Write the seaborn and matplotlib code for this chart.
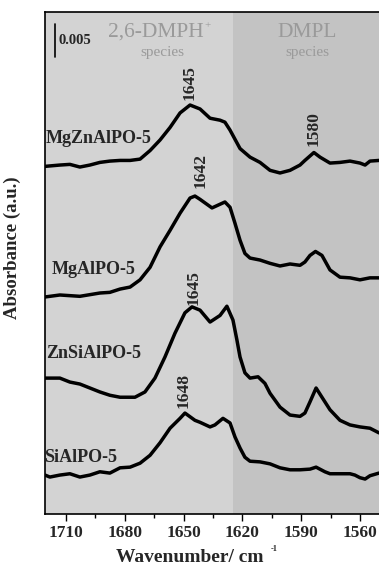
import matplotlib
matplotlib.use("Agg")
import matplotlib.pyplot as plt
from matplotlib.ticker import MultipleLocator
import numpy as np
import seaborn as sns

# spectra (wavenumber in cm-1, absorbance in 10^-3 a.u., already stacked)
wn_mgzn = [1720.7, 1713.1, 1708.0, 1702.9, 1697.8, 1692.7, 1687.6, 1682.4, 1677.3, 1672.2,
           1667.1, 1662.0, 1656.9, 1651.8, 1646.7, 1641.6, 1636.5, 1631.4, 1628.9, 1626.3,
           1621.2, 1616.1, 1611.0, 1605.9, 1600.8, 1595.7, 1590.6, 1588.1, 1583.5, 1580.4,
           1575.3, 1570.2, 1565.1, 1560.0, 1557.4, 1554.9, 1550.3]
abs_mgzn = [52.7, 52.9, 53.0, 52.6, 52.9, 53.3, 53.5, 53.6, 53.6, 53.8,
            55.1, 56.7, 58.6, 60.8, 62.0, 61.4, 60.0, 59.7, 59.4, 58.2,
            55.4, 54.1, 53.3, 52.1, 51.7, 52.1, 52.9, 53.6, 54.8, 54.1,
            53.2, 53.3, 53.5, 53.2, 52.9, 53.5, 53.6]

wn_mg = [1720.7, 1713.1, 1702.9, 1692.7, 1687.6, 1682.4, 1677.3, 1672.2, 1667.1, 1662.0,
         1656.9, 1651.8, 1646.7, 1644.2, 1641.6, 1635.5, 1628.9, 1626.3, 1623.8, 1621.2,
         1618.7, 1616.1, 1611.0, 1605.9, 1600.8, 1595.7, 1590.6, 1588.1, 1585.5, 1582.7,
         1579.4, 1575.3, 1570.2, 1565.1, 1560.0, 1554.9, 1550.3]
abs_mg = [32.9, 33.2, 33.0, 33.5, 33.6, 34.1, 34.4, 35.5, 37.4, 40.5,
          43.0, 45.6, 47.9, 48.2, 47.7, 46.4, 47.3, 46.5, 44.1, 41.5,
          39.5, 38.8, 38.5, 38.0, 37.6, 37.9, 37.7, 38.2, 39.2, 39.8,
          39.2, 37.0, 35.9, 35.8, 35.5, 35.8, 35.8]

wn_znsi = [1720.7, 1713.1, 1708.0, 1702.9, 1697.8, 1692.7, 1687.6, 1682.4, 1674.8, 1669.7,
           1664.6, 1659.5, 1654.4, 1649.3, 1645.7, 1641.6, 1636.5, 1631.4, 1627.9, 1624.8,
           1622.8, 1621.2, 1618.7, 1616.1, 1612.0, 1608.5, 1605.9, 1600.8, 1595.7, 1590.6,
           1588.1, 1585.5, 1582.4, 1579.4, 1575.3, 1570.2, 1565.1, 1560.0, 1554.9, 1550.3]
abs_znsi = [20.6, 20.6, 20.0, 19.7, 19.1, 18.5, 18.0, 17.7, 17.7, 18.5,
            20.6, 23.8, 27.4, 30.5, 31.4, 30.9, 29.1, 30.1, 31.5, 29.4,
            26.4, 23.8, 21.4, 20.6, 20.8, 19.8, 18.3, 16.2, 15.0, 14.8,
            15.3, 17.0, 19.1, 17.7, 15.8, 14.2, 13.5, 13.2, 13.0, 12.3]

wn_si = [1720.7, 1718.2, 1713.1, 1708.0, 1702.9, 1697.8, 1692.7, 1687.6, 1682.4, 1677.3,
         1672.2, 1667.1, 1662.0, 1656.9, 1651.8, 1649.3, 1644.2, 1641.6, 1636.5, 1634.0,
         1629.9, 1626.3, 1623.8, 1621.2, 1618.7, 1616.1, 1611.0, 1605.9, 1600.8, 1595.7,
         1590.6, 1585.5, 1582.4, 1577.9, 1575.3, 1570.2, 1565.1, 1562.6, 1560.0, 1557.4,
         1554.9, 1550.3]
abs_si = [5.9, 5.6, 5.9, 6.1, 5.6, 5.9, 6.4, 6.2, 7.0, 7.1,
          7.7, 8.9, 10.8, 13.0, 14.5, 15.3, 14.2, 13.9, 13.2, 13.5,
          14.5, 13.8, 11.7, 10.0, 8.6, 8.0, 7.9, 7.6, 7.0, 6.7,
          6.7, 6.8, 7.1, 6.4, 6.1, 6.1, 6.1, 5.9, 5.5, 5.3,
          5.8, 6.2]

samples = ["MgZnAlPO-5", "MgAlPO-5", "ZnSiAlPO-5", "SiAlPO-5"]
spectra = [(wn_mgzn, abs_mgzn), (wn_mg, abs_mg), (wn_znsi, abs_znsi), (wn_si, abs_si)]

# peak labels: (text, x, y in 10^-3 a.u.)
peak_labels = [("1645", 1647, 65.4), ("1580", 1583.5, 58.5), ("1642", 1641.5, 52.1),
               ("1645", 1645, 34.4), ("1648", 1650, 18.8)]
sample_label_pos = [(1720.2, 57.0), (1717.5, 37.0), (1720.2, 24.3), (1721, 8.5)]

split_wn = 1625
scale_bar = 5.0  # 0.005 a.u.
grey_txt = '#9a9a9a'

sns.set_theme(style="ticks")
plt.rcParams['font.family'] = ['Liberation Serif', 'DejaVu Serif']
plt.rcParams['font.weight'] = 'bold'

fig = plt.figure(figsize=(3.79, 5.67), dpi=100)
ax = fig.add_axes([0.1187, 0.0935, 0.8813, 0.8853])

ax.axvspan(1720.7, split_wn, color='#d3d3d3', zorder=0, lw=0)
ax.axvspan(split_wn, 1550.3, color='#c3c3c3', zorder=0, lw=0)

for (w, a) in spectra:
    sns.lineplot(x=w, y=np.array(a) / 1000, ax=ax, color='black', lw=2.5, sort=False)

for name, (xp, yp) in zip(samples, sample_label_pos):
    ax.text(xp, yp / 1000, name, fontsize=13, fontweight='bold', ha='left', va='center')

for txt, xp, yp in peak_labels:
    ax.text(xp, yp / 1000, txt, fontsize=12.5, fontweight='bold', rotation=90,
            ha='center', va='center')

# scale bar
ax.plot([1715.6, 1715.6], [69.3 / 1000, (69.3 + scale_bar) / 1000], color='black', lw=1.2)
ax.text(1714.0, 71.8 / 1000, "0.005", fontsize=10.5, fontweight='bold', ha='left', va='center')

# region labels
ax.text(1664, 73.0 / 1000, "2,6-DMPH", fontsize=15.5, color=grey_txt, ha='center',
        va='center', fontweight='normal')
ax.text(1637.8, 74.0 / 1000, "+", fontsize=8, color=grey_txt, ha='center',
        va='center', fontweight='normal')
ax.text(1661, 70.0 / 1000, "species", fontsize=11, color=grey_txt, ha='center',
        va='center', fontweight='normal')
ax.text(1587, 73.0 / 1000, "DMPL", fontsize=15.5, color=grey_txt, ha='center',
        va='center', fontweight='normal')
ax.text(1587, 70.0 / 1000, "species", fontsize=11, color=grey_txt, ha='center',
        va='center', fontweight='normal')

ax.set_xlim(1720.7, 1550.3)
ax.set_ylim(0, 0.0761)
ax.xaxis.set_minor_locator(MultipleLocator(15))
ax.set_xticks([1710, 1680, 1650, 1620, 1590, 1560])
ax.set_yticks([])
ax.tick_params(axis='x', which='major', direction='out', length=5, width=1, color='black',
               labelsize=12.5, pad=3)
ax.tick_params(axis='x', which='minor', direction='out', length=3, width=1, color='black')
for lab in ax.get_xticklabels():
    lab.set_fontweight('bold')
for s in ['left', 'top', 'bottom']:
    ax.spines[s].set_color('black')
    ax.spines[s].set_linewidth(1.2)
ax.spines['right'].set_visible(False)

ax.set_xlabel("")
ax.set_ylabel("Absorbance (a.u.)", fontsize=13.5, fontweight='bold')
ax.yaxis.set_label_coords(-0.073, 0.53)
fig.text(190 / 379, 1 - 558 / 567, "Wavenumber/ cm", fontsize=14, fontweight='bold',
         ha='center', va='center')
fig.text(274 / 379, 1 - 549 / 567, "-1", fontsize=6, fontweight='bold',
         ha='center', va='center')

fig.savefig("out.png", dpi=100)
